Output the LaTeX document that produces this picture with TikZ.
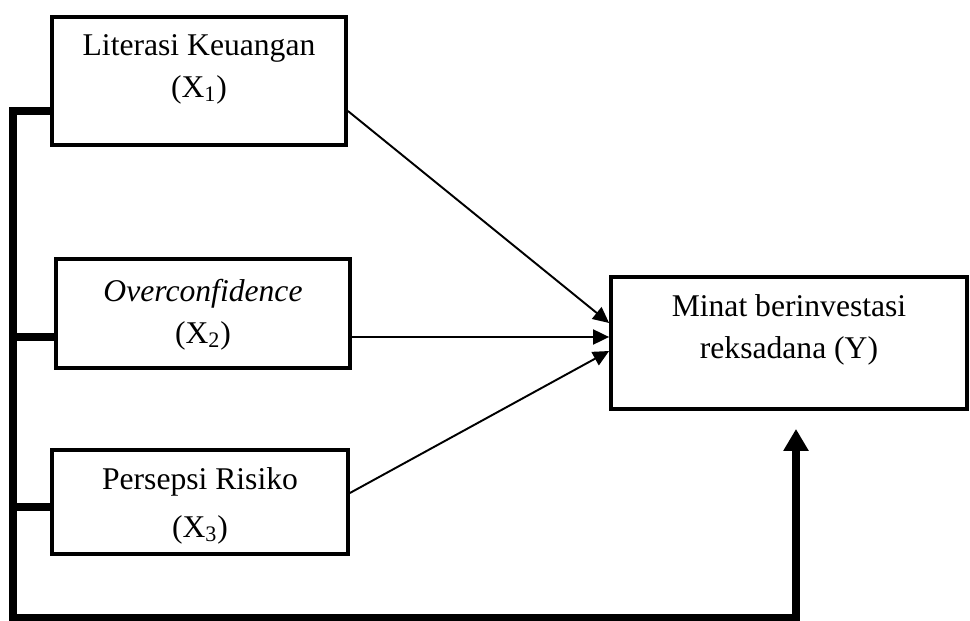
\documentclass[tikz,border=0pt]{standalone}
\usepackage{fontspec}
\setmainfont{Liberation Serif}
\usetikzlibrary{arrows.meta}
\usetikzlibrary{calc}

\begin{document}
\begin{tikzpicture}[x=0.02cm,y=-0.02cm,>={Triangle[length=0.32cm,width=0.3cm]},
	var node/.style={rectangle,draw,line width=2.2pt,inner sep=0pt},
	text node/.style={align=center,inner sep=0pt,font=\fontsize{18}{24}\selectfont},
	link/.style={->,line width=1.1pt},
	frame line/.style={line width=4.5pt}]
	\useasboundingbox (0,0) rectangle (970,621);

	\node[var node,minimum width=5.88cm,minimum height=2.56cm] (x1) at (199,81) {};
	\node[var node,minimum width=5.88cm,minimum height=2.18cm] (x2) at (203,313.5) {};
	\node[var node,minimum width=5.92cm,minimum height=2.08cm] (x3) at (200,502) {};
	\node[var node,minimum width=7.12cm,minimum height=2.64cm] (y) at (789,343) {};

	\node[text node] (x1txt) at ($(x1)+(0,-12)$) {Literasi Keuangan\\(X\textsubscript{1})};
	\node[text node] (x2txt) at ($(x2)+(0,1)$) {\textit{Overconfidence}\\(X\textsubscript{2})};
	\node[text node,font=\fontsize{18}{27}\selectfont] (x3txt) at ($(x3)+(0,4)$) {Persepsi Risiko\\(X\textsubscript{3})};
	\node[text node] (ytxt) at ($(y)+(0,-13)$) {Minat berinvestasi\\reksadana (Y)};

	% pengaruh parsial
	\draw[link] ($(x1.east)+(0,30)$) -- ($(y.west)+(0,-20)$);
	\draw[link] ($(x2.east)+(0,23.5)$) -- ($(y.west)+(0,-6)$);
	\draw[link] ($(x3.east)+(0,-9)$) -- ($(y.west)+(0,8)$);

	% pengaruh simultan
	\coordinate (s1) at ($(x1.west)+(0,30)$);
	\coordinate (s2) at ($(x2.west)+(0,23.5)$);
	\coordinate (s3) at ($(x3.west)+(0,5)$);
	\coordinate (ctop) at (13,111);
	\coordinate (cbot) at (13,618);
	\coordinate (ytip) at ($(y.south)+(7,18)$);
	\draw[frame line,-{Triangle[length=0.44cm,width=0.48cm]}] (s1) -- (ctop) -- (cbot) -| (ytip);
	\draw[frame line] (s2) -- (s2 -| ctop);
	\draw[frame line] (s3) -- (s3 -| ctop);
\end{tikzpicture}
\end{document}
